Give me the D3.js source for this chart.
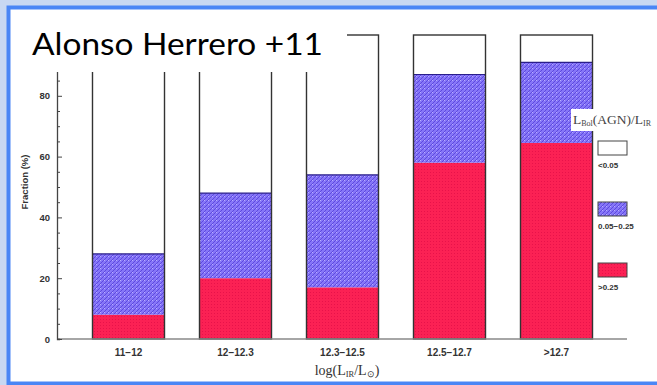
<!DOCTYPE html>
<html>
<head>
<meta charset="utf-8">
<script src="https://cdn.jsdelivr.net/npm/d3@7"></script>
<style>
  html, body { margin: 0; padding: 0; background: #c8d8f2; }
  svg { display: block; }
</style>
</head>
<body>
<svg id="chart"></svg>
<script>
// data (percent of sources in each L_IR bin)
var bins = ["11\u221212", "12\u221212.3", "12.3\u221212.5", "12.5\u221212.7", ">12.7"];
var strong = [8, 20, 17, 58, 64.5];      // >0.25
var mid = [20, 28, 37, 29, 26.5];        // 0.05-0.25
var weak = [72, 52, 46, 13, 9];          // <0.05
var yTicks = [0, 20, 40, 60, 80];
var legendLabels = ["<0.05", "0.05\u22120.25", ">0.25"];

var W = 657, H = 385;
var svg = d3.select("#chart").attr("width", W).attr("height", H);

// patterns for the textured fills
var defs = svg.append("defs");
var hatch = defs.append("pattern").attr("id", "hatch")
  .attr("patternUnits", "userSpaceOnUse").attr("width", 4).attr("height", 4);
hatch.append("rect").attr("width", 4).attr("height", 4).attr("fill", "#8676f8");
hatch.append("path").attr("d", "M0,4 L4,0 M-1,1 L1,-1 M3,5 L5,3")
  .attr("stroke", "#5e4ade").attr("stroke-width", 1);
hatch.append("rect").attr("x", 0).attr("y", 0).attr("width", 1).attr("height", 1).attr("fill", "#b8aeff");

var dots = defs.append("pattern").attr("id", "dots")
  .attr("patternUnits", "userSpaceOnUse").attr("width", 3).attr("height", 3);
dots.append("rect").attr("width", 3).attr("height", 3).attr("fill", "#fb2154");
dots.append("rect").attr("x", 1).attr("y", 1).attr("width", 1).attr("height", 1).attr("fill", "#e8124a");

// slide frame
svg.append("rect").attr("width", W).attr("height", H).attr("fill", "#c8d8f2");
svg.append("rect")
  .attr("x", 8.5).attr("y", 7.5).attr("width", 700).attr("height", 376)
  .attr("fill", "#fff").attr("stroke", "#4a86f5").attr("stroke-width", 4);

var x = d3.scaleBand()
  .domain(bins)
  .range([75, 610])
  .paddingInner(0.327)
  .paddingOuter(0.1635);

var y = d3.scaleLinear().domain([0, 100]).range([339, 35]);

var table = bins.map(function(b, i) {
  return { bin: b, strong: strong[i], mid: mid[i], weak: weak[i] };
});
var keys = ["strong", "mid", "weak"];
var fills = { strong: "url(#dots)", mid: "url(#hatch)", weak: "#fff" };
var series = d3.stack().keys(keys)(table);

var g = svg.append("g");
series.forEach(function(s) {
  g.selectAll(null)
    .data(s)
    .enter()
    .append("rect")
      .attr("x", function(d) { return x(d.data.bin); })
      .attr("y", function(d) { return y(d[1]); })
      .attr("width", x.bandwidth())
      .attr("height", function(d) { return y(d[0]) - y(d[1]); })
      .attr("fill", fills[s.key]);
});

// dark line on top of the blue segment
g.selectAll(null)
  .data(series[1])
  .enter()
  .append("line")
    .attr("x1", function(d) { return x(d.data.bin); })
    .attr("x2", function(d) { return x(d.data.bin) + x.bandwidth(); })
    .attr("y1", function(d) { return y(d[1]); })
    .attr("y2", function(d) { return y(d[1]); })
    .attr("stroke", "#2a1e8a").attr("stroke-width", 1.2);

// bar outline
g.selectAll(null)
  .data(table)
  .enter()
  .append("rect")
    .attr("x", function(d) { return x(d.bin); })
    .attr("y", y(100))
    .attr("width", x.bandwidth())
    .attr("height", y(0) - y(100))
    .attr("fill", "none")
    .attr("stroke", "#333")
    .attr("stroke-width", 1.4);

// x axis
var xAxis = svg.append("g").attr("transform", "translate(0,339)");
xAxis.append("line").attr("x1", 57).attr("x2", 627)
  .attr("stroke", "#888").attr("stroke-width", 1.5);
xAxis.selectAll("text")
  .data(bins)
  .enter()
  .append("text")
    .attr("x", function(d) { return x(d) + x.bandwidth() / 2; })
    .attr("y", 17)
    .attr("text-anchor", "middle")
    .attr("font-family", "Liberation Sans, Arial, sans-serif")
    .attr("font-weight", "bold")
    .attr("font-size", 10)
    .attr("fill", "#333")
    .text(function(d) { return d; });

var xt = svg.append("text")
  .attr("x", 347).attr("y", 375)
  .attr("text-anchor", "middle")
  .attr("font-family", "Liberation Serif, Times New Roman, serif")
  .attr("font-size", 14)
  .attr("fill", "#333");
xt.append("tspan").text("log(L");
xt.append("tspan").attr("font-size", 8.5).attr("dy", 2).text("IR");
xt.append("tspan").attr("dy", -2).text("/L");
xt.append("tspan").attr("font-size", 8.5).attr("dy", 2).text("\u2299");
xt.append("tspan").attr("dy", -2).text(")");

// y axis with inward ticks
var yAxis = svg.append("g").attr("transform", "translate(57,0)");
yAxis.call(d3.axisRight(y).tickValues(d3.range(0, 101, 5)).tickSize(3).tickFormat(""));
yAxis.select(".domain").attr("stroke", "#444").attr("stroke-width", 1.3);
yAxis.selectAll(".tick line").attr("stroke", "#444")
  .attr("x2", function(d) { return d % 20 === 0 ? 5 : 3; });
yAxis.selectAll(null)
  .data(yTicks)
  .enter()
  .append("text")
    .attr("x", -7)
    .attr("y", function(d) { return y(d) + 3.5; })
    .attr("text-anchor", "end")
    .attr("font-family", "Liberation Sans, Arial, sans-serif")
    .attr("font-weight", "bold")
    .attr("font-size", 9.5)
    .attr("fill", "#333")
    .text(function(d) { return d; });

svg.append("text")
  .attr("transform", "translate(28,182) rotate(-90)")
  .attr("text-anchor", "middle")
  .attr("font-family", "Liberation Sans, Arial, sans-serif")
  .attr("font-weight", "bold")
  .attr("font-size", 9.5)
  .attr("fill", "#333")
  .text("Fraction (%)");

// legend
svg.append("rect").attr("x", 571).attr("y", 109).attr("width", 86).attr("height", 22).attr("fill", "#fff");
var lt = svg.append("text")
  .attr("x", 573).attr("y", 124)
  .attr("font-family", "Liberation Serif, Times New Roman, serif")
  .attr("font-size", 13.5)
  .attr("fill", "#444");
lt.append("tspan").text("L");
lt.append("tspan").attr("font-size", 8).attr("dy", 1.5).text("Bol");
lt.append("tspan").attr("dy", -1.5).text("(AGN)/L");
lt.append("tspan").attr("font-size", 8).attr("dy", 1.5).text("IR");

var legendFills = ["#fff", "url(#hatch)", "url(#dots)"];
var leg = svg.selectAll(".leg")
  .data(legendLabels)
  .enter()
  .append("g")
    .attr("transform", function(d, i) { return "translate(598," + (141 + i * 61) + ")"; });
leg.append("rect")
  .attr("width", 29).attr("height", 14)
  .attr("fill", function(d, i) { return legendFills[i]; })
  .attr("stroke", "#444").attr("stroke-width", 1);
leg.append("text")
  .attr("x", 0).attr("y", 27)
  .attr("font-family", "Liberation Sans, Arial, sans-serif")
  .attr("font-weight", "bold")
  .attr("font-size", 8)
  .attr("fill", "#333")
  .text(function(d) { return d; });

// slide title box
svg.append("rect").attr("x", 11).attr("y", 10).attr("width", 336).attr("height", 62).attr("fill", "#fff");
svg.append("text")
  .attr("x", 32).attr("y", 55)
  .attr("font-family", "Lato, Open Sans, sans-serif")
  .attr("font-size", 31)
  .attr("textLength", 291)
  .attr("lengthAdjust", "spacingAndGlyphs")
  .attr("fill", "#000")
  .text("Alonso Herrero +11");
</script>
</body>
</html>
